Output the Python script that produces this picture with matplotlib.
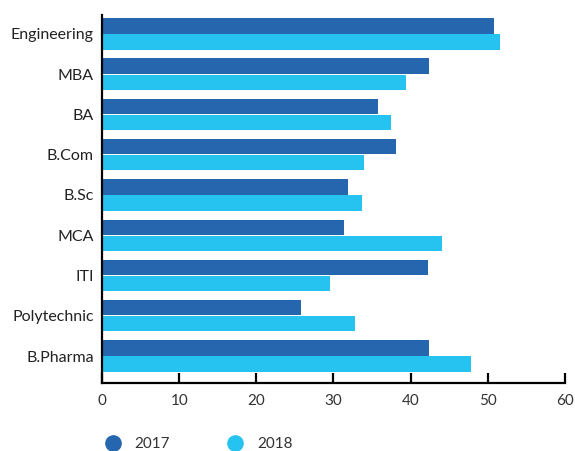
import matplotlib
matplotlib.use("Agg")
import matplotlib.pyplot as plt
from matplotlib.lines import Line2D
import numpy as np

categories = ["Engineering", "MBA", "BA", "B.Com", "B.Sc", "MCA", "ITI", "Polytechnic", "B.Pharma"]
values_2017 = [50.8, 42.4, 35.8, 38.1, 31.9, 31.4, 42.3, 25.8, 42.4]
values_2018 = [51.6, 39.4, 37.5, 34.0, 33.7, 44.0, 29.6, 32.8, 47.8]
series_labels = ["2017", "2018"]
xticks = [0, 10, 20, 30, 40, 50, 60]

c17 = "#2566AF"
c18 = "#27C3F0"

plt.rcParams['font.family'] = ['Lato', 'DejaVu Sans']

fig = plt.figure(figsize=(5.75, 4.51), dpi=100)
ax = fig.add_axes([102/575, 1-383/451, 463/575, 368/451])

y = np.arange(len(categories))
h = 0.38
ax.barh(y - 0.2, values_2017, height=h, color=c17)
ax.barh(y + 0.2, values_2018, height=h, color=c18)

ax.set_ylim(len(categories) - 1 + 0.67, -0.47)
ax.set_xlim(0, 60)
ax.set_xticks(xticks)
ax.set_yticks(y)
ax.set_yticklabels(categories)

for s in ["top", "right"]:
    ax.spines[s].set_visible(False)
for s in ["left", "bottom"]:
    ax.spines[s].set_linewidth(1.6)
    ax.spines[s].set_color("black")

ax.tick_params(axis="x", direction="in", length=7, width=1.6, pad=8, labelsize=11, labelcolor="#333333")
ax.tick_params(axis="y", length=0, pad=6, labelsize=11.5, labelcolor="#222222")

handles = [Line2D([], [], marker="o", linestyle="none", markersize=11, color=c17),
           Line2D([], [], marker="o", linestyle="none", markersize=11, color=c18)]
fig.legend(handles, series_labels, loc="center left", bbox_to_anchor=(90/575, 1-444/451),
           ncol=2, frameon=False, fontsize=11, columnspacing=3.7, handletextpad=0.8,
           handlelength=1.2, labelcolor="#333333")

fig.savefig("out.png", dpi=100)
